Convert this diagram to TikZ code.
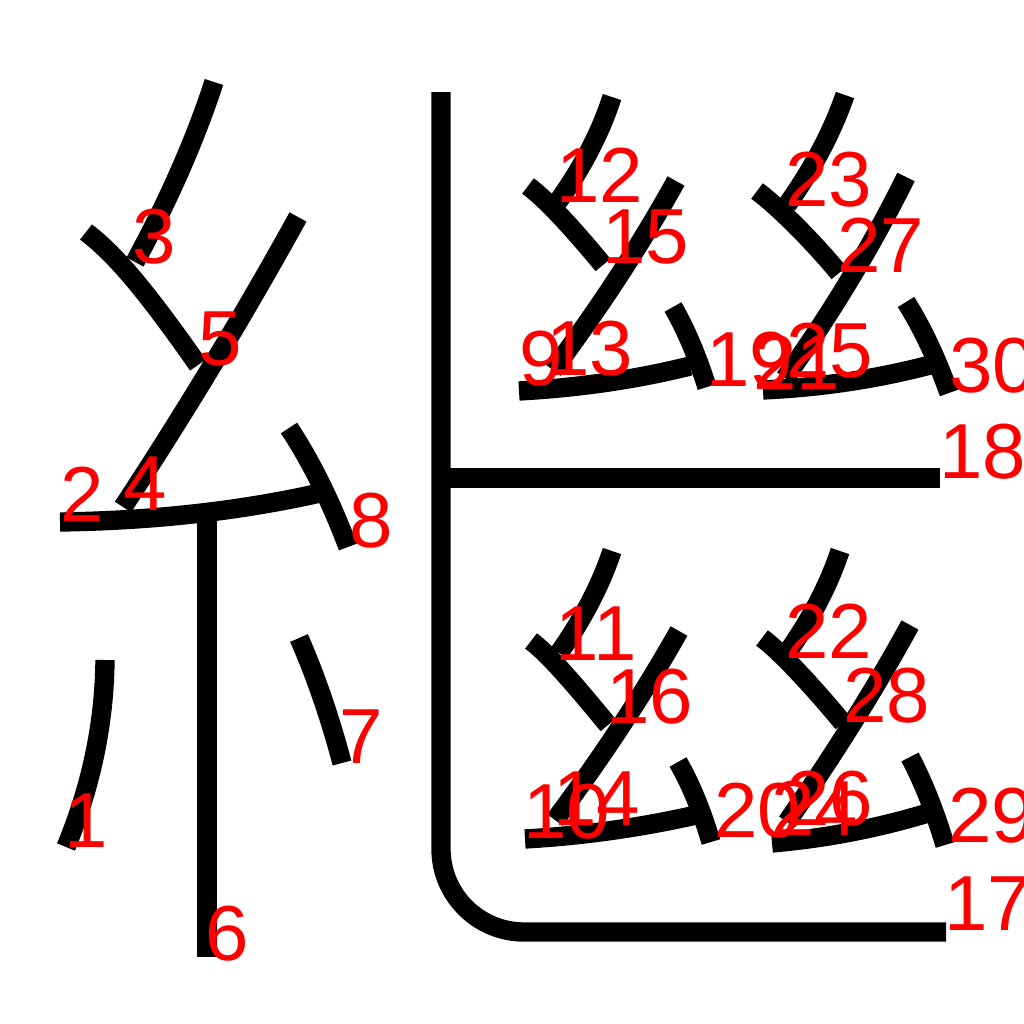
\documentclass[tikz,border=0pt]{standalone}
\usepackage{fontspec}
\setmainfont{Liberation Sans}
\usetikzlibrary{calc}

\begin{document}
\begin{tikzpicture}
		[x=0.01cm,y=-0.01cm]
			\tikzstyle{every node}=[text=red, anchor=base,
		inner sep=0pt, font=\fontsize{22.2pt}{26pt}\selectfont]
			\tikzstyle{kstroke}=[draw=black, line width=5.5pt, line cap=butt]
		\useasboundingbox (0,0) rectangle (1024,1024);
		%-----left part
		 \foreach \ax/\ay/\cx/\cy/\bx/\by in {105/660/104/755/66/847, 214/82/186/168/135/262, 298/217/218/362/123/507, 60/522/200/520/320/493, 299/638/324/695/342/763, 289/428/322/478/348/547}
		 \draw[kstroke] (\ax,\ay) .. controls ($(\ax,\ay)!.6667!(\cx,\cy)$) and ($(\bx,\by)!.6667!(\cx,\cy)$) .. (\bx,\by);
		 \draw[kstroke] (207,515) -- (207,957);
		%-----right part
		 \draw[kstroke] (441,478) -- (940,478);
		 \draw[kstroke, rounded corners=0.83cm] (441,92) -- (441,932) -- (946,932);
		 \foreach \ax/\ay/\cx/\cy/\bx/\by in {612/97/595/150/557/203, 676/181/624/275/553/370, 519/391/610/386/690/366, 673/307/692/340/707/387,
		 845/95/826/150/787/205, 906/177/855/280/785/378, 763/390/850/386/930/365, 906/302/930/340/949/393,
		 612/551/595/602/559/653, 679/631/626/725/555/820, 525/839/612/834/696/815, 678/762/697/795/711/842,
		 840/551/823/602/787/653, 910/625/858/720/787/822, 772/843/852/836/928/813, 910/757/930/795/945/845}
		 \draw[kstroke] (\ax,\ay) .. controls ($(\ax,\ay)!.6667!(\cx,\cy)$) and ($(\bx,\by)!.6667!(\cx,\cy)$) .. (\bx,\by);
		%-----dots
		 \foreach \ax/\ay/\px/\py/\qx/\qy/\bx/\by in {86/232/112/252/140/282/198/365, 528/186/546/199/575/231/603/265, 757/191/775/204/811/239/839/273, 531/641/549/654/580/691/608/725, 762/638/780/651/815/689/843/723}
		 \draw[kstroke] (\ax,\ay) .. controls (\px,\py) and (\qx,\qy) .. (\bx,\by);
		%-----numbers
		 \foreach \n/\x/\y in {1/86/847, 2/82/521, 3/154/263, 4/145/510, 5/220/365, 6/227/960, 7/361/763, 8/371/547, 9/541/385, 10/567/838, 11/596/660, 12/600/202, 13/590/375, 14/597/825, 15/646/263, 16/650/723, 17/988/930, 18/983/478, 19/750/386, 20/758/837, 21/797/389, 22/829/658, 23/829/206, 24/815/835, 25/830/377, 26/830/825, 27/881/272, 28/887/722, 29/992/842, 30/993/392}
		 \node (n\n) at (\x,\y) {\n};
		 	\end{tikzpicture}
\end{document}
